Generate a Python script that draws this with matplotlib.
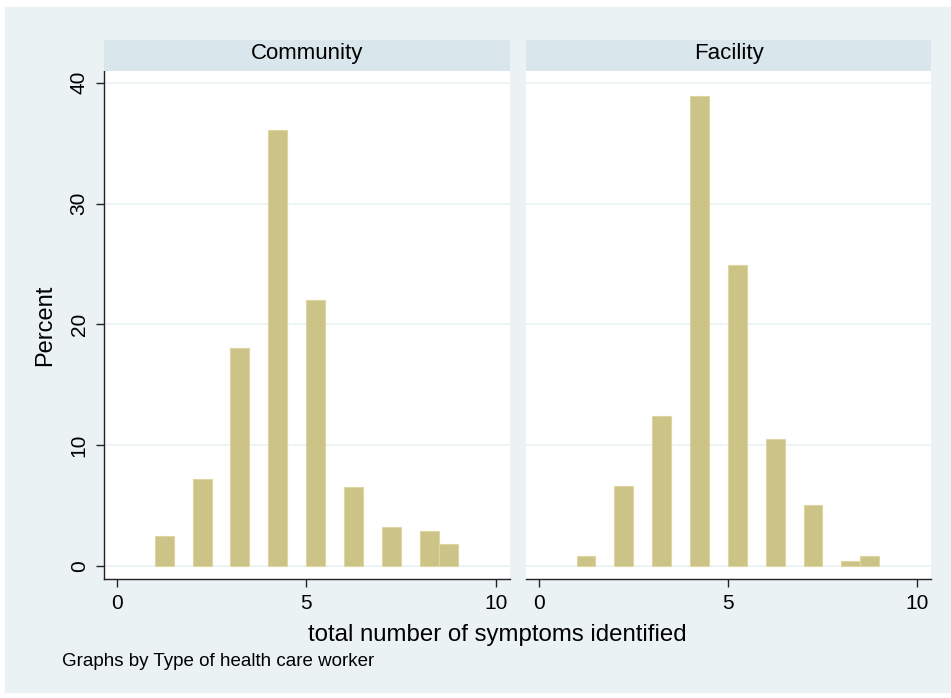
import numpy as np
import matplotlib
matplotlib.use('Agg')
import matplotlib.pyplot as plt
from matplotlib.patches import Rectangle

plt.rcParams['font.family'] = ['Liberation Sans', 'DejaVu Sans']

# histogram bins (left edges, width 0.5) and percent per group
bin_left = [1, 2, 3, 4, 5, 6, 7, 8, 8.5]
community = [2.5, 7.2, 18.0, 36.1, 22.0, 6.5, 3.25, 2.9, 1.8]
facility = [0.8, 6.6, 12.4, 38.9, 24.9, 10.5, 5.05, 0.4, 0.8]
groups = ['Community', 'Facility']
x_ticks = [0, 5, 10]
y_ticks = [0, 10, 20, 30, 40]

bg = '#EAF2F3'
strip_col = '#D9E6EB'
bar_col = '#CCC386'
edge_col = '#DDD6A3'

W, H = 951, 698
fig = plt.figure(figsize=(W / 100, H / 100), dpi=100)
fig.patches.append(Rectangle((5 / W, 6 / H), 1 - 5 / W, 1 - 13 / H,
                             transform=fig.transFigure, color=bg, zorder=-10))


def px_axes(x0, y0, x1, y1):
    return fig.add_axes([x0 / W, 1 - y1 / H, (x1 - x0) / W, (y1 - y0) / H])


panels = [(104, 510), (526, 931)]
for i, (name, vals) in enumerate(zip(groups, [community, facility])):
    x0, x1 = panels[i]
    ax = px_axes(x0, 71, x1, 579)
    ax.set_facecolor('white')
    ax.bar(bin_left, vals, width=0.5, align='edge', color=bar_col,
           edgecolor=edge_col, linewidth=0.8, zorder=3)
    ax.set_xlim(-0.335, 10.37)
    ax.set_ylim(-1.08, 40.97)
    ax.set_yticks(y_ticks)
    ax.set_xticks(x_ticks)
    ax.yaxis.grid(True, color=bg, linewidth=1.2, zorder=0)
    ax.set_axisbelow(True)
    for s in ['top', 'right']:
        ax.spines[s].set_visible(False)
    ax.spines['bottom'].set_color('#222222')
    ax.spines['bottom'].set_linewidth(1.0)
    ax.tick_params(axis='x', length=6, width=1, color='#222222',
                   labelsize=15, pad=5)
    if i == 0:
        ax.spines['left'].set_color('#222222')
        ax.spines['left'].set_linewidth(1.0)
        ax.tick_params(axis='y', length=6, width=1, color='#222222',
                       labelsize=15, pad=5)
        for lab in ax.get_yticklabels():
            lab.set_rotation(90)
            lab.set_va('center')
        ax.set_ylabel('Percent', fontsize=17, labelpad=10)
    else:
        ax.spines['left'].set_visible(False)
        ax.tick_params(axis='y', left=False, labelleft=False)

    # strip title
    sx = px_axes(x0, 40, x1, 71)
    sx.set_facecolor(strip_col)
    sx.set_xticks([])
    sx.set_yticks([])
    for s in sx.spines.values():
        s.set_visible(False)
    sx.text(0.5, 0.55, name, ha='center', va='center', fontsize=16,
            transform=sx.transAxes)

fig.text(497 / W, 1 - 635 / H, 'total number of symptoms identified',
         ha='center', va='center', fontsize=17.3)
fig.text(62 / W, 1 - 661 / H, 'Graphs by Type of health care worker',
         ha='left', va='center', fontsize=13.5)

fig.savefig('out.png', dpi=100)
